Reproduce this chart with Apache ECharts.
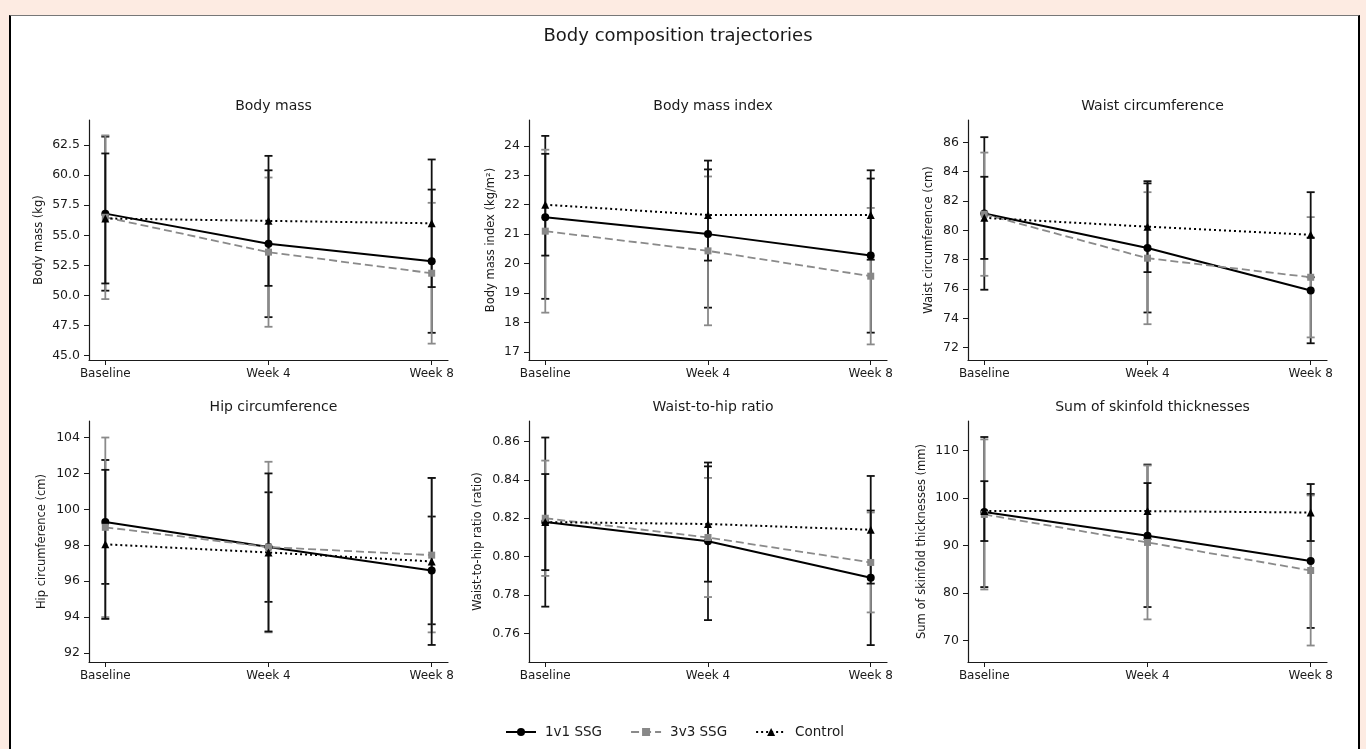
<!DOCTYPE html>
<html>
<head>
<meta charset="utf-8">
<title>Body composition trajectories</title>
<script src="https://cdn.jsdelivr.net/npm/echarts@6/dist/echarts.min.js"></script>
<style>
  html, body { margin: 0; padding: 0; background: #fdebe2; overflow: hidden; }
  #frame {
    position: absolute; left: 9px; top: 15px; width: 1347px; height: 800px;
    background: #fff; border-left: 2px solid #000; border-right: 2px solid #000; border-top: 1px solid #777;
  }
  #main { position: absolute; left: 0; top: 0; width: 1366px; height: 749px; }
</style>
</head>
<body>
<div id="frame"></div>
<div id="main"></div>
<script>
// time points and groups
const weeks = ['Baseline', 'Week 4', 'Week 8']
const groups = ['1v1 SSG', '3v3 SSG', 'Control']

// means / SD rows: 1v1, 3v3, Control
const bodyMassMean = [[56.8, 54.3, 52.85], [56.5, 53.6, 51.85], [56.4, 56.2, 56.0]]
const bodyMassSd = [[6.4, 6.1, 5.95], [6.8, 6.2, 5.85], [5.4, 5.4, 5.3]]
const bmiMean = [[21.57, 21.0, 20.27], [21.1, 20.43, 19.57], [22.0, 21.65, 21.65]]
const bmiSd = [[2.77, 2.5, 2.62], [2.77, 2.53, 2.32], [1.73, 1.55, 1.52]]
const waistMean = [[81.15, 78.8, 75.9], [81.1, 78.1, 76.8], [80.85, 80.25, 79.7]]
const waistSd = [[5.2, 4.4, 3.6], [4.2, 4.5, 4.1], [2.8, 3.1, 2.9]]
const hipMean = [[99.3, 97.9, 96.6], [99.0, 97.9, 97.45], [98.05, 97.6, 97.1]]
const hipSd = [[3.45, 3.05, 3.0], [5.0, 4.75, 4.3], [4.15, 4.4, 4.65]]
const whrMean = [[0.818, 0.808, 0.789], [0.820, 0.810, 0.797], [0.818, 0.817, 0.814]]
const whrSd = [[0.044, 0.041, 0.035], [0.030, 0.031, 0.026], [0.025, 0.030, 0.028]]
const skinMean = [[97.0, 92.0, 86.7], [96.5, 90.6, 84.7], [97.2, 97.2, 96.9]]
const skinSd = [[15.8, 15.0, 14.1], [15.8, 16.2, 15.8], [6.3, 5.9, 6.0]]

// tick labels
const bodyMassTicks = [45, 47.5, 50, 52.5, 55, 57.5, 60, 62.5]
const bmiTicks = [17, 18, 19, 20, 21, 22, 23, 24]
const waistTicks = [72, 74, 76, 78, 80, 82, 84, 86]
const hipTicks = [92, 94, 96, 98, 100, 102, 104]
const whrTicks = [0.76, 0.78, 0.80, 0.82, 0.84, 0.86]
const skinTicks = [70, 80, 90, 100, 110]

const panels = [
  { title: 'Body mass', yName: 'Body mass (kg)', mean: bodyMassMean, sd: bodyMassSd, ticks: bodyMassTicks, min: 44.64, max: 64.58, dec: 1, gap: 44 },
  { title: 'Body mass index', yName: 'Body mass index (kg/m²)', mean: bmiMean, sd: bmiSd, ticks: bmiTicks, min: 16.72, max: 24.88, dec: 0, gap: 32 },
  { title: 'Waist circumference', yName: 'Waist circumference (cm)', mean: waistMean, sd: waistSd, ticks: waistTicks, min: 71.16, max: 87.52, dec: 0, gap: 33 },
  { title: 'Hip circumference', yName: 'Hip circumference (cm)', mean: hipMean, sd: hipSd, ticks: hipTicks, min: 91.5, max: 104.92, dec: 0, gap: 41 },
  { title: 'Waist-to-hip ratio', yName: 'Waist-to-hip ratio (ratio)', mean: whrMean, sd: whrSd, ticks: whrTicks, min: 0.7452, max: 0.8706, dec: 2, gap: 45 },
  { title: 'Sum of skinfold thicknesses', yName: 'Sum of skinfold thicknesses (mm)', mean: skinMean, sd: skinSd, ticks: skinTicks, min: 65.43, max: 116.17, dec: 0, gap: 40 }
]

const colLeft = [89, 529, 968]
const colWidth = [359, 358, 359]
const rowTop = [120, 421]
const rowHeight = [240, 241]

const FONT = 'DejaVu Sans'
const INK = '#1a1a1a'
const GRAY = '#8a8a8a'

const styles = [
  { color: '#000', lineColor: '#000', type: 'solid', width: 2, symbol: 'circle', size: 8 },
  { color: '#888', lineColor: '#8a8a8a', type: [8, 4], width: 1.8, symbol: 'rect', size: 7 },
  { color: '#000', lineColor: '#000', type: [2, 3], width: 2, symbol: 'triangle', size: 8 }
]
const barColors = ['#111', GRAY, '#111']

function errorBar(color) {
  return function (params, api) {
    const x = api.value(0)
    const m = api.value(1)
    const s = api.value(2)
    const hi = api.coord([x, m + s])
    const lo = api.coord([x, m - s])
    const st = { stroke: color, lineWidth: 1.8 }
    return {
      type: 'group',
      children: [
        { type: 'line', shape: { x1: hi[0], y1: hi[1], x2: lo[0], y2: lo[1] }, style: st },
        { type: 'line', shape: { x1: hi[0] - 4, y1: hi[1], x2: hi[0] + 4, y2: hi[1] }, style: st },
        { type: 'line', shape: { x1: lo[0] - 4, y1: lo[1], x2: lo[0] + 4, y2: lo[1] }, style: st }
      ]
    }
  }
}

const chart = echarts.init(document.getElementById('main'))

const titles = [{
  text: 'Body composition trajectories',
  left: 673, top: 22, textAlign: 'center',
  textStyle: { fontFamily: FONT, fontSize: 18, fontWeight: 'normal', color: INK }
}]
const grids = []
const xAxes = []
const yAxes = []
const series = []

panels.forEach((p, i) => {
  const c = i % 3
  const r = Math.floor(i / 3)
  grids.push({ left: colLeft[c], top: rowTop[r], width: colWidth[c], height: rowHeight[r], containLabel: false })
  titles.push({
    text: p.title,
    left: colLeft[c] + colWidth[c] / 2, top: rowTop[r] - 26, textAlign: 'center',
    textStyle: { fontFamily: FONT, fontSize: 14, fontWeight: 'normal', color: INK }
  })
  xAxes.push({
    type: 'value', gridIndex: i, min: -0.1, max: 2.1,
    axisLine: { show: true, onZero: false, lineStyle: { color: INK, width: 1.2 } },
    axisTick: { show: true, length: 5, customValues: [0, 1, 2], lineStyle: { color: INK } },
    axisLabel: {
      customValues: [0, 1, 2], margin: 8,
      formatter: v => weeks[Math.round(v)] || '',
      fontFamily: FONT, fontSize: 12, color: INK
    },
    splitLine: { show: false }
  })
  yAxes.push({
    type: 'value', gridIndex: i, min: p.min, max: p.max,
    name: p.yName, nameLocation: 'middle', nameRotate: 90, nameGap: p.gap, nameMoveOverlap: false,
    nameTextStyle: { fontFamily: FONT, fontSize: 11.5, color: INK },
    axisLine: { show: true, onZero: false, lineStyle: { color: INK, width: 1.2 } },
    axisTick: { show: true, length: 5, customValues: p.ticks, lineStyle: { color: INK } },
    axisLabel: {
      customValues: p.ticks, margin: 9,
      formatter: v => v.toFixed(p.dec),
      fontFamily: FONT, fontSize: 12.5, color: INK
    },
    splitLine: { show: false }
  })
  groups.forEach((g, k) => {
    const s = styles[k]
    series.push({
      name: g + ' SD', type: 'custom', xAxisIndex: i, yAxisIndex: i, z: 2,
      renderItem: errorBar(barColors[k]),
      encode: { x: 0, y: 1 },
      data: weeks.map((w, j) => [j, p.mean[k][j], p.sd[k][j]])
    })
    series.push({
      name: g, type: 'line', xAxisIndex: i, yAxisIndex: i, z: 3,
      symbol: s.symbol, symbolSize: s.size, showSymbol: true,
      itemStyle: { color: s.color },
      lineStyle: { color: s.lineColor, width: s.width, type: s.type },
      data: weeks.map((w, j) => [j, p.mean[k][j]])
    })
  })
})

chart.setOption({
  backgroundColor: 'transparent',
  animation: false,
  title: titles,
  legend: {
    data: groups,
    left: 500, top: 720,
    itemWidth: 30, itemHeight: 10, itemGap: 28,
    textStyle: { fontFamily: FONT, fontSize: 13.5, color: INK, padding: [0, 0, 0, 4] }
  },
  grid: grids,
  xAxis: xAxes,
  yAxis: yAxes,
  series: series
})
</script>
</body>
</html>
